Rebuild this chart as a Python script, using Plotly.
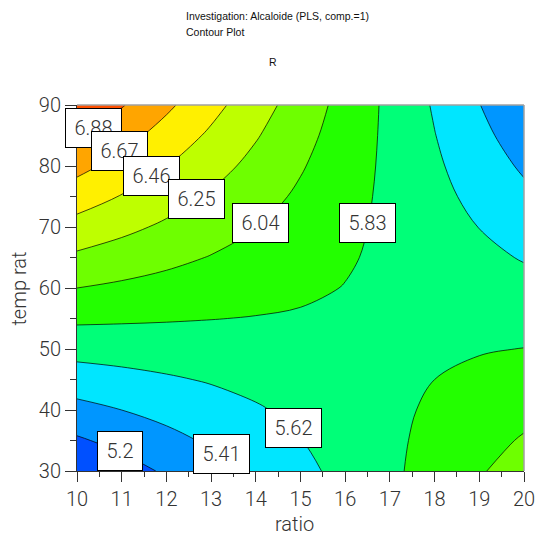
import plotly.graph_objects as go

# ---- data ----
ratio = [10, 11, 12, 13, 14, 15, 16, 17, 18, 19, 20]
temp_rat = [30, 35, 40, 45, 50, 55, 60, 65, 70, 75, 80, 85, 90]

# response R on the (temp_rat x ratio) grid, rows follow temp_rat
R = [
    [5.000, 5.113, 5.227, 5.340, 5.454, 5.567, 5.680, 5.794, 5.907, 6.021, 6.134],
    [5.173, 5.262, 5.350, 5.439, 5.527, 5.616, 5.705, 5.793, 5.882, 5.970, 6.059],
    [5.347, 5.410, 5.474, 5.538, 5.601, 5.665, 5.729, 5.792, 5.856, 5.920, 5.983],
    [5.520, 5.559, 5.598, 5.636, 5.675, 5.714, 5.753, 5.792, 5.830, 5.869, 5.908],
    [5.693, 5.707, 5.721, 5.735, 5.749, 5.763, 5.777, 5.791, 5.805, 5.819, 5.833],
    [5.867, 5.856, 5.845, 5.834, 5.823, 5.812, 5.801, 5.790, 5.779, 5.768, 5.757],
    [6.040, 6.004, 5.968, 5.932, 5.897, 5.861, 5.825, 5.789, 5.754, 5.718, 5.682],
    [6.213, 6.153, 6.092, 6.031, 5.971, 5.910, 5.849, 5.789, 5.728, 5.667, 5.607],
    [6.387, 6.301, 6.216, 6.130, 6.045, 5.959, 5.873, 5.788, 5.702, 5.617, 5.531],
    [6.560, 6.450, 6.339, 6.229, 6.118, 6.008, 5.898, 5.787, 5.677, 5.566, 5.456],
    [6.733, 6.598, 6.463, 6.327, 6.192, 6.057, 5.922, 5.787, 5.651, 5.516, 5.381],
    [6.907, 6.747, 6.587, 6.426, 6.266, 6.106, 5.946, 5.786, 5.625, 5.466, 5.305],
    [7.080, 6.895, 6.710, 6.525, 6.340, 6.155, 5.970, 5.785, 5.600, 5.415, 5.230],
]

level_start = 5.2
level_end = 6.88
level_step = 0.21

band_colors = ["#0050FF", "#0096FF", "#00E6FF", "#00FF78", "#23FF00",
               "#6EFF00", "#BEFF00", "#FFF000", "#FFA500", "#FF5000"]

# contour label boxes
label_text = ["6.88", "6.67", "6.46", "6.25", "6.04", "5.83", "5.62", "5.41", "5.2"]
label_x = [10.36, 10.95, 11.67, 12.67, 14.10, 16.49, 14.85, 13.23, 10.97]
label_y = [86.2, 82.4, 78.4, 74.65, 70.7, 70.7, 37.06, 32.8, 33.3]

# ---- figure ----
n = len(band_colors)
colorscale = [[i / (n - 1), c] for i, c in enumerate(band_colors)]

FONT = "Roboto, Liberation Sans, Arial, sans-serif"

fig = go.Figure(go.Contour(
    x=ratio, y=temp_rat, z=R,
    contours=dict(start=level_start, end=level_end, size=level_step,
                  coloring="fill", showlines=True, showlabels=False),
    line=dict(color="black", width=0.7, smoothing=1.0),
    colorscale=colorscale,
    showscale=False,
    hoverinfo="x+y+z",
))

annotations = []
for t, x, y in zip(label_text, label_x, label_y):
    annotations.append(dict(
        x=x, y=y, xref="x", yref="y", text=t, showarrow=False,
        bgcolor="white", bordercolor="black", borderwidth=1, borderpad=1,
        width=53 if len(t) > 3 else 42, height=36,
        font=dict(family=FONT, size=20, color="#333333", weight=300),
    ))

title_font = dict(family="Liberation Sans, Arial, sans-serif", size=10.5, color="#111111")
annotations += [
    dict(x=0.2394, y=1.2435, xref="paper", yref="paper", xanchor="left", yanchor="middle",
         text="Investigation: Alcaloide (PLS, comp.=1)", showarrow=False, font=title_font),
    dict(x=0.2394, y=1.1997, xref="paper", yref="paper", xanchor="left", yanchor="middle",
         text="Contour Plot", showarrow=False, font=title_font),
    dict(x=0.4385, y=1.1163, xref="paper", yref="paper", xanchor="center", yanchor="middle",
         text="R", showarrow=False, font=title_font),
    dict(x=0.4855, y=-0.1436, xref="paper", yref="paper", xanchor="center", yanchor="middle",
         text="ratio", showarrow=False,
         font=dict(family=FONT, size=20, color="#333333", weight=300)),
    dict(x=-0.129, y=0.4993, xref="paper", yref="paper", xanchor="center", yanchor="middle",
         text="temp rat", showarrow=False, textangle=-90,
         font=dict(family=FONT, size=20, color="#333333", weight=300)),
]

tickfont = dict(family=FONT, size=20, color="#333333", weight=300)

fig.update_layout(
    width=536, height=541,
    margin=dict(l=77, r=12, t=105, b=70, autoexpand=False),
    paper_bgcolor="white", plot_bgcolor="white",
    showlegend=False,
    annotations=annotations,
    shapes=[
        dict(type="line", xref="paper", yref="paper", x0=0, x1=1, y0=1, y1=1,
             line=dict(color="#A0A0A0", width=1.5)),
        dict(type="line", xref="paper", yref="paper", x0=1, x1=1, y0=0, y1=1,
             line=dict(color="#A0A0A0", width=1.5)),
    ],
    xaxis=dict(range=[10, 20], dtick=1, tick0=10, ticks="outside", ticklen=10,
               tickcolor="#333333", tickwidth=1, showline=True, linecolor="#333333",
               linewidth=1, showgrid=False, zeroline=False, tickfont=tickfont,
               automargin=False,
               minor=dict(dtick=0.5, ticks="outside", ticklen=5, tickcolor="#333333",
                          showgrid=False)),
    yaxis=dict(range=[30, 90], dtick=10, tick0=30, ticks="outside", ticklen=11,
               tickcolor="#333333", tickwidth=1, showline=True, linecolor="#333333",
               linewidth=1, showgrid=False, zeroline=False, tickfont=tickfont,
               automargin=False,
               minor=dict(dtick=5, ticks="outside", ticklen=6, tickcolor="#333333",
                          showgrid=False)),
)

fig.write_html(
    "out.html",
    config={"displayModeBar": False},
    post_script="document.body.style.margin='0';document.body.style.overflow='hidden';",
)
